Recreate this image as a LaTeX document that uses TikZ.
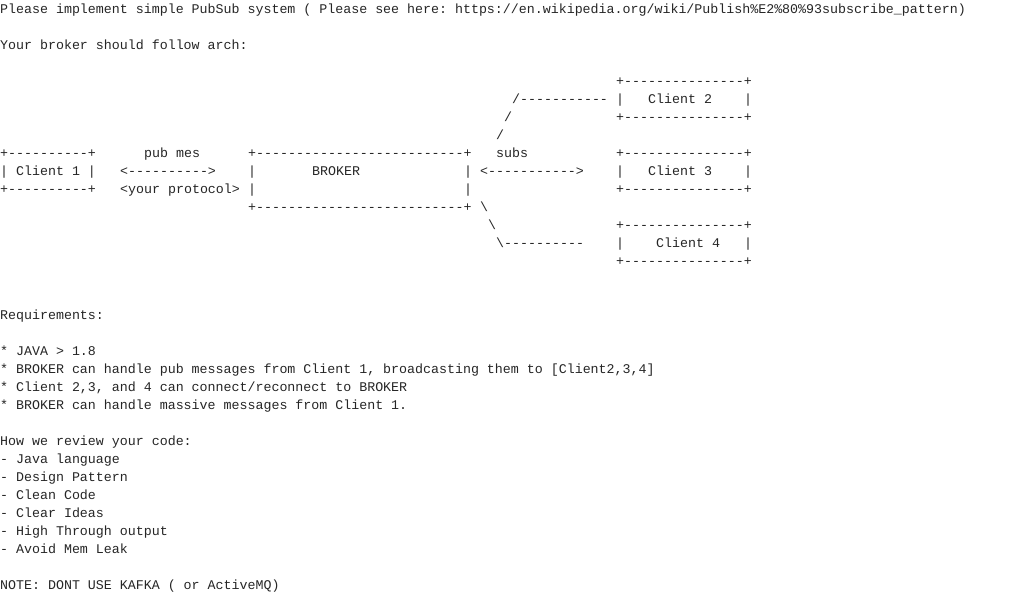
\documentclass[tikz,border=0pt]{standalone}
\usepackage{fontspec}
\setmonofont{Liberation Mono}
\def\edgeline{+---------------+}
\def\brokerline{+--------------------------+}
\def\clientline{+----------+}
\begin{document}
\begin{tikzpicture}[x=8pt,y=-18pt]
    \tikzstyle{txt}=[anchor=west,inner sep=0pt,text height=9pt,text depth=3pt,font=\ttfamily\fontsize{13.3}{18}\selectfont,text=black!85]
    \fill[white] (0,-0.556) rectangle (129.375,33.056);
    \useasboundingbox (0,-0.556) rectangle (129.375,33.056);

    % Heading lines
    \node[txt] (title) at (0,0) {Please implement simple PubSub system ( Please see here: https://en.wikipedia.org/wiki/Publish\%E2\%80\%93subscribe\_pattern)};
    \node[txt] (arch) at (0,2) {Your broker should follow arch:};

    % Client 2 box and link
    \node[txt] (c2-top) at (77,4) {\edgeline};
    \node[txt] (l2-a) at (64,5) {/-----------};
    \node[txt] (c2-l) at (77,5) {|};
    \node[txt] (c2) at (81,5) {Client 2};
    \node[txt] (c2-r) at (93,5) {|};
    \node[txt] (l2-b) at (63,6) {/};
    \node[txt] (c2-bot) at (77,6) {\edgeline};
    \node[txt] (l2-c) at (62,7) {/};

    % Client 1, broker, client 3
    \node[txt] (c1-top) at (0,8) {\clientline};
    \node[txt] (pub) at (18,8) {pub mes};
    \node[txt] (b-top) at (31,8) {\brokerline};
    \node[txt] (subs) at (62,8) {subs};
    \node[txt] (c3-top) at (77,8) {\edgeline};

    \node[txt] (c1) at (0,9) {| Client 1 |};
    \node[txt] (pub-arrow) at (15,9) {<---------->};
    \node[txt] (b-l) at (31,9) {|};
    \node[txt] (broker) at (39,9) {BROKER};
    \node[txt] (b-r) at (58,9) {|};
    \node[txt] (subs-arrow) at (60,9) {<----------->};
    \node[txt] (c3-l) at (77,9) {|};
    \node[txt] (c3) at (81,9) {Client 3};
    \node[txt] (c3-r) at (93,9) {|};

    \node[txt] (c1-bot) at (0,10) {\clientline};
    \node[txt] (proto) at (15,10) {<your protocol>};
    \node[txt] (b-l2) at (31,10) {|};
    \node[txt] (b-r2) at (58,10) {|};
    \node[txt] (c3-bot) at (77,10) {\edgeline};

    % Client 4 box and link
    \node[txt] (b-bot) at (31,11) {\brokerline};
    \node[txt] (l4-a) at (60,11) {\textbackslash};
    \node[txt] (l4-b) at (61,12) {\textbackslash};
    \node[txt] (c4-top) at (77,12) {\edgeline};
    \node[txt] (l4-c) at (62,13) {\textbackslash----------};
    \node[txt] (c4-l) at (77,13) {|};
    \node[txt] (c4) at (82,13) {Client 4};
    \node[txt] (c4-r) at (93,13) {|};
    \node[txt] (c4-bot) at (77,14) {\edgeline};

    % Requirements
    \node[txt] (req) at (0,17) {Requirements:};
    \node[txt] (req-1) at (0,19) {* JAVA > 1.8};
    \node[txt] (req-2) at (0,20) {* BROKER can handle pub messages from Client 1, broadcasting them to [Client2,3,4]};
    \node[txt] (req-3) at (0,21) {* Client 2,3, and 4 can connect/reconnect to BROKER};
    \node[txt] (req-4) at (0,22) {* BROKER can handle massive messages from Client 1.};

    % Review list
    \node[txt] (rev) at (0,24) {How we review your code:};
    \node[txt] (rev-1) at (0,25) {- Java language};
    \node[txt] (rev-2) at (0,26) {- Design Pattern};
    \node[txt] (rev-3) at (0,27) {- Clean Code};
    \node[txt] (rev-4) at (0,28) {- Clear Ideas};
    \node[txt] (rev-5) at (0,29) {- High Through output};
    \node[txt] (rev-6) at (0,30) {- Avoid Mem Leak};

    \node[txt] (note) at (0,32) {NOTE: DONT USE KAFKA ( or ActiveMQ)};
\end{tikzpicture}
\end{document}
